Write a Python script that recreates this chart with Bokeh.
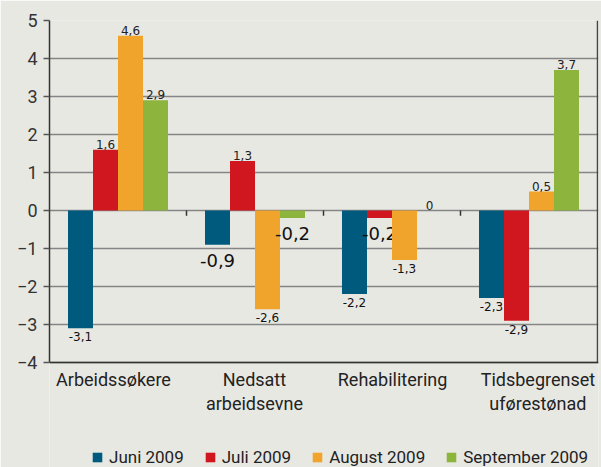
from bokeh.plotting import figure
from bokeh.models import (ColumnDataSource, Range1d, FixedTicker, Legend, LegendItem, Span)
from bokeh.core.properties import value
from bokeh.embed import file_html
from bokeh.resources import INLINE

categories = ["Arbeidssøkere", "Nedsatt\narbeidsevne", "Rehabilitering", "Tidsbegrenset\nuførestønad"]
series_names = ["Juni 2009", "Juli 2009", "August 2009", "September 2009"]
juni = [-3.1, -0.9, -2.2, -2.3]
juli = [1.6, 1.3, -0.2, -2.9]
august = [4.6, -2.6, -1.3, 0.5]
september = [2.9, -0.2, 0, 3.7]
# which labels are printed in the larger type in the original
big_label = [[False, True, False, False],
             [False, False, True, False],
             [False, False, False, False],
             [False, True, False, False]]
y_ticks = [-4, -3, -2, -1, 0, 1, 2, 3, 4, 5]

colors = ["#005a7e", "#d0161f", "#f0a42b", "#8db53d"]
BG = "#e8e8e3"

n_cat = len(categories)
y_min, y_max = y_ticks[0], y_ticks[-1]
# the frame reaches down to the bottom edge so that the legend below the chart stays visible;
# 38 px per unit as in the original, 447 px frame height
p = figure(width=601, height=467, output_backend="svg", toolbar_location=None,
           x_axis_location=None,
           x_range=Range1d(0, n_cat + 1 / 137), y_range=Range1d(y_max - 447 / 38, y_max),
           min_border_left=49, min_border_right=3, min_border_top=20, min_border_bottom=0)
p.background_fill_color = BG
p.border_fill_color = BG
p.outline_line_color = None

bw = 0.1825
series = [juni, juli, august, september]
renderers = []
for i, (vals, col) in enumerate(zip(series, colors)):
    xs = [k + 0.5 + (i - 1.5) * bw for k in range(n_cat)]
    src = ColumnDataSource(dict(x=xs, top=vals))
    r = p.vbar(x="x", top="top", bottom=0, width=bw, source=src, fill_color=col, line_color=None)
    renderers.append(r)

    for k, v in enumerate(vals):
        big = big_label[i][k]
        txt = str(v).replace(".", ",") if v != 0 else "0"
        if v >= 0:
            p.text(x=[xs[k]], y=[v], text=[txt], text_align="center", text_baseline="bottom",
                   y_offset=-1, text_font=value("DejaVu Sans"), text_font_size="12px",
                   text_color="#222222")
        else:
            p.text(x=[xs[k]], y=[v], text=[txt], text_align="center", text_baseline="top",
                   y_offset=9 if big else 4, text_font=value("DejaVu Sans"),
                   text_font_size="18px" if big else "12px", text_color="#111111")

# small ticks at category boundaries on the zero line
bx = list(range(1, n_cat))
p.segment(x0=bx, y0=[0] * len(bx), x1=bx, y1=[-0.14] * len(bx),
          line_color="#333333", line_width=1.5)

# grid
p.xgrid.grid_line_color = None
p.ygrid.ticker = FixedTicker(ticks=y_ticks)
p.ygrid.grid_line_color = "#858585"
p.ygrid.grid_line_width = 1.6

# y axis
p.yaxis.ticker = FixedTicker(ticks=y_ticks)
p.yaxis.bounds = (y_min, y_max)
p.yaxis.axis_line_color = "#333333"
p.yaxis.axis_line_width = 1.5
p.yaxis.major_tick_line_color = "#555555"
p.yaxis.major_tick_line_width = 1.5
p.yaxis.major_tick_out = 6
p.yaxis.major_tick_in = 0
p.yaxis.minor_tick_line_color = None
p.yaxis.major_label_text_font = "Roboto"
p.yaxis.major_label_text_font_size = "18px"
p.yaxis.major_label_text_color = "#333333"
p.yaxis.major_label_standoff = 6

# bottom axis line and right frame line
p.add_layout(Span(location=y_min, dimension="width", line_color="#333333", line_width=1.5))
p.segment(x0=[n_cat], y0=[y_min], x1=[n_cat], y1=[y_max], line_color="#444444", line_width=1.5)

# category labels (anchors as placed in the original)
label_pos = [0.467, 1.496, 2.504, 3.565]
p.text(x=label_pos, y=[y_min] * n_cat, text=categories, text_align="center", text_baseline="top",
       y_offset=6, text_font=value("Roboto"), text_font_size="18px", text_color="#222222",
       text_line_height=1.17)

legend = Legend(items=[LegendItem(label=n, renderers=[r]) for n, r in zip(series_names, renderers)],
                orientation="horizontal", location=(42, 0),
                glyph_width=12, glyph_height=12, label_standoff=6, spacing=20,
                padding=0, margin=0, border_line_color=None, background_fill_alpha=0,
                label_text_font="Roboto", label_text_font_size="17px", label_text_color="#222222")
p.add_layout(legend, "center")

open("out.html", "w").write(file_html(p, INLINE))
